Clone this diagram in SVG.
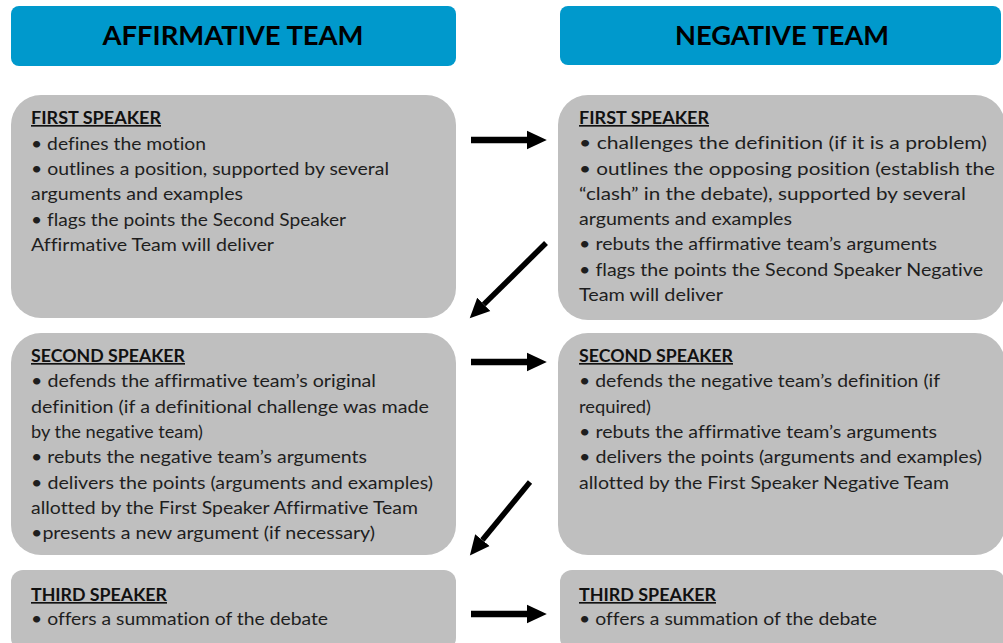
<svg xmlns="http://www.w3.org/2000/svg" width="1003" height="643" viewBox="0 0 1003 643">
  <style>
    .hdr { fill: #0099cc; }
    .box { fill: #bfbfbf; }
    .htxt { font-family: Lato, "Open Sans", "Liberation Sans", sans-serif; font-weight: bold; font-size: 26px; fill: #000; text-anchor: middle; }
    .t { font-family: Lato, "Open Sans", "Liberation Sans", sans-serif; font-size: 17px; fill: #1e1e1e; font-variant-ligatures: none; }
    .h { font-family: Lato, "Open Sans", "Liberation Sans", sans-serif; font-size: 16.5px; font-weight: bold; fill: #111; text-decoration: underline; font-variant-ligatures: none; }
    .arr { stroke: #000; fill: none; }
  </style>
  <defs>
    <marker id="ah" markerUnits="userSpaceOnUse" markerWidth="22" markerHeight="22" viewBox="0 -10 20 20" refX="0" refY="0" orient="auto">
      <path d="M0,-8.5 L18,0 L0,8.5 z" fill="#000"/>
    </marker>
  </defs>

  <g id="header-affirmative">
    <rect class="hdr" x="11" y="6" width="445" height="60" rx="8"/>
    <text class="htxt" x="233" y="45" textLength="261" lengthAdjust="spacingAndGlyphs">AFFIRMATIVE TEAM</text>
  </g>
  <g id="header-negative">
    <rect class="hdr" x="560" y="6" width="441" height="59" rx="8"/>
    <text class="htxt" x="782" y="45" textLength="214" lengthAdjust="spacingAndGlyphs">NEGATIVE TEAM</text>
  </g>

  <g id="aff-first">
    <rect class="box" x="11" y="95" width="445" height="223" rx="30"/>
    <text class="h" x="31" y="124" textLength="130" lengthAdjust="spacingAndGlyphs">FIRST SPEAKER</text>
    <text class="t" x="31" y="149.5" textLength="175" lengthAdjust="spacingAndGlyphs">• defines the motion</text>
    <text class="t" x="31" y="175" textLength="358" lengthAdjust="spacingAndGlyphs">• outlines a position, supported by several</text>
    <text class="t" x="31" y="200" textLength="212" lengthAdjust="spacingAndGlyphs">arguments and examples</text>
    <text class="t" x="31" y="225.5" textLength="315" lengthAdjust="spacingAndGlyphs">• flags the points the Second Speaker</text>
    <text class="t" x="31" y="251" textLength="243" lengthAdjust="spacingAndGlyphs">Affirmative Team will deliver</text>
  </g>

  <g id="neg-first">
    <rect class="box" x="558" y="95" width="447" height="225" rx="30"/>
    <text class="h" x="579" y="124" textLength="130" lengthAdjust="spacingAndGlyphs">FIRST SPEAKER</text>
    <text class="t" x="579" y="149" textLength="408" lengthAdjust="spacingAndGlyphs">• challenges the definition (if it is a problem)</text>
    <text class="t" x="579" y="175" textLength="416" lengthAdjust="spacingAndGlyphs">• outlines the opposing position (establish the</text>
    <text class="t" x="579" y="200" textLength="387" lengthAdjust="spacingAndGlyphs">“clash” in the debate), supported by several</text>
    <text class="t" x="579" y="225" textLength="213" lengthAdjust="spacingAndGlyphs">arguments and examples</text>
    <text class="t" x="579" y="250" textLength="358" lengthAdjust="spacingAndGlyphs">• rebuts the affirmative team’s arguments</text>
    <text class="t" x="579" y="275.5" textLength="404" lengthAdjust="spacingAndGlyphs">• flags the points the Second Speaker Negative</text>
    <text class="t" x="579" y="301" textLength="144" lengthAdjust="spacingAndGlyphs">Team will deliver</text>
  </g>

  <g id="aff-second">
    <rect class="box" x="11" y="333" width="445" height="222" rx="30"/>
    <text class="h" x="31" y="362" textLength="154" lengthAdjust="spacingAndGlyphs">SECOND SPEAKER</text>
    <text class="t" x="31" y="387.3" textLength="345" lengthAdjust="spacingAndGlyphs">• defends the affirmative team’s original</text>
    <text class="t" x="31" y="412.6" textLength="398" lengthAdjust="spacingAndGlyphs">definition (if a definitional challenge was made</text>
    <text class="t" x="31" y="438" textLength="172" lengthAdjust="spacingAndGlyphs">by the negative team)</text>
    <text class="t" x="31" y="463.2" textLength="336" lengthAdjust="spacingAndGlyphs">• rebuts the negative team’s arguments</text>
    <text class="t" x="31" y="488.5" textLength="402" lengthAdjust="spacingAndGlyphs">• delivers the points (arguments and examples)</text>
    <text class="t" x="31" y="513.8" textLength="387" lengthAdjust="spacingAndGlyphs">allotted by the First Speaker Affirmative Team</text>
    <text class="t" x="31" y="539" textLength="344" lengthAdjust="spacingAndGlyphs">•presents a new argument (if necessary)</text>
  </g>

  <g id="neg-second">
    <rect class="box" x="558" y="333" width="447" height="222" rx="30"/>
    <text class="h" x="579" y="362" textLength="154" lengthAdjust="spacingAndGlyphs">SECOND SPEAKER</text>
    <text class="t" x="579" y="387.3" textLength="361" lengthAdjust="spacingAndGlyphs">• defends the negative team’s definition (if</text>
    <text class="t" x="579" y="412.6" textLength="72" lengthAdjust="spacingAndGlyphs">required)</text>
    <text class="t" x="579" y="438" textLength="358" lengthAdjust="spacingAndGlyphs">• rebuts the affirmative team’s arguments</text>
    <text class="t" x="579" y="463.2" textLength="403" lengthAdjust="spacingAndGlyphs">• delivers the points (arguments and examples)</text>
    <text class="t" x="579" y="488.5" textLength="370" lengthAdjust="spacingAndGlyphs">allotted by the First Speaker Negative Team</text>
  </g>

  <g id="aff-third">
    <rect class="box" x="11" y="570" width="445" height="80" rx="12"/>
    <text class="h" x="31" y="601" textLength="136" lengthAdjust="spacingAndGlyphs">THIRD SPEAKER</text>
    <text class="t" x="31" y="625" textLength="297" lengthAdjust="spacingAndGlyphs">• offers a summation of the debate</text>
  </g>

  <g id="neg-third">
    <rect class="box" x="560" y="570" width="445" height="80" rx="12"/>
    <text class="h" x="579" y="601" textLength="137" lengthAdjust="spacingAndGlyphs">THIRD SPEAKER</text>
    <text class="t" x="579" y="625" textLength="298" lengthAdjust="spacingAndGlyphs">• offers a summation of the debate</text>
  </g>

  <g id="connectors">
    <line class="arr" x1="471" y1="140" x2="527" y2="140" stroke-width="6.5" marker-end="url(#ah)"/>
    <line class="arr" x1="546" y1="243" x2="483.8" y2="304.4" stroke-width="5.5" marker-end="url(#ah)"/>
    <line class="arr" x1="471" y1="362" x2="527" y2="362" stroke-width="6.5" marker-end="url(#ah)"/>
    <line class="arr" x1="530" y1="482" x2="482.4" y2="540.1" stroke-width="5.5" marker-end="url(#ah)"/>
    <line class="arr" x1="471" y1="614" x2="527" y2="614" stroke-width="6.5" marker-end="url(#ah)"/>
  </g>
</svg>
